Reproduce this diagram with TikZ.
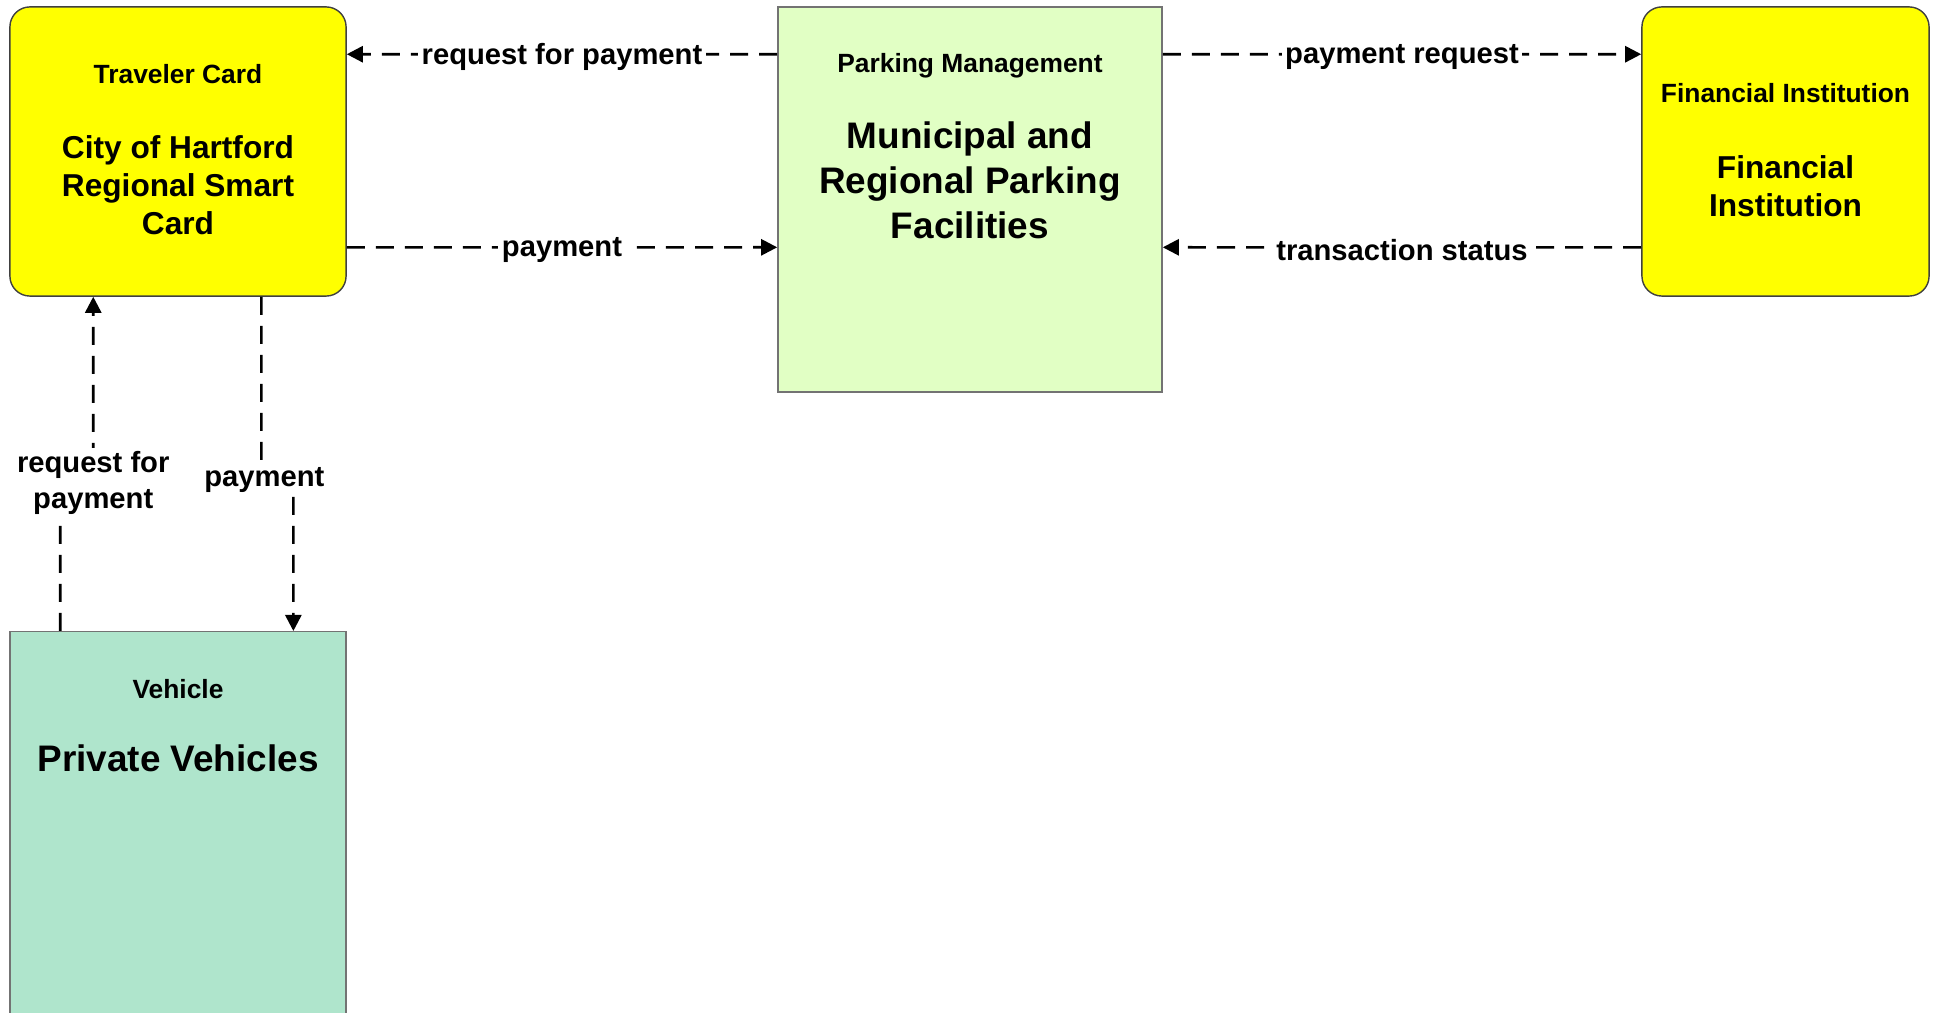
\documentclass[tikz,border=0pt]{standalone}
\usepackage{fontspec}
\setmainfont{Liberation Sans}
\usetikzlibrary{arrows.meta}
\definecolor{cardyellow}{RGB}{255,255,0}
\definecolor{parkgreen}{RGB}{225,255,196}
\definecolor{vehgreen}{RGB}{175,229,204}

\begin{document}
\begin{tikzpicture}[x=0.01cm, y=-0.01cm,
  rbox/.style={draw=black!75, line width=0.4pt, fill=cardyellow, rounded corners=0.2cm, inner sep=0pt},
  sbox/.style={draw=black!55, line width=0.4pt, inner sep=0pt},
  hd/.style={font=\fontsize{7.5}{9}\selectfont\bfseries},
  mainsm/.style={font=\fontsize{9}{10.8}\selectfont\bfseries, align=center},
  mainlg/.style={font=\fontsize{10.5}{12.8}\selectfont\bfseries, align=center},
  lbl/.style={fill=white, inner sep=1pt, yshift=-0.03cm, font=\fontsize{8.3}{10.2}\selectfont\bfseries, align=center},
  flow/.style={line width=0.75pt, dash pattern=on 0.18cm off 0.11cm, -{Triangle[length=0.16cm,width=0.16cm]}}]
\useasboundingbox (0,0) rectangle (1939,1013);
\clip (0,0) rectangle (1939,1013);

% boxes
\node[rbox, minimum width=3.36cm, minimum height=2.89cm] (tc) at (178,151.5) {};
\node[sbox, fill=parkgreen, minimum width=3.84cm, minimum height=3.85cm] (pm) at (970,199.5) {};
\node[rbox, minimum width=2.87cm, minimum height=2.89cm] (fi) at (1785.5,151.5) {};
\node[sbox, fill=vehgreen, minimum width=3.36cm, minimum height=5cm, anchor=north] (ve) at (178,631) {};

% box texts
\node[hd] (tchd) at (178,74) {Traveler Card};
\node[mainsm] (tctx) at (178,185) {City of Hartford\\Regional Smart\\Card};
\node[hd] (pmhd) at (970,66) {Parking Management};
\node[mainlg] (pmtx) at (970,180) {Municipal and\\Regional Parking\\Facilities};
\node[hd] (fihd) at (1785.5,93) {Financial Institution};
\node[mainsm] (fitx) at (1785.5,186) {Financial\\Institution};
\node[hd] (vehd) at (178,689) {Vehicle};
\node[mainlg] (vetx) at (178,758) {Private Vehicles};

% flows
\draw[flow] ([yshift=-.48cm]pm.north west) -- node[lbl]{request for payment} ([yshift=-.48cm]tc.north east);
\draw[flow] ([yshift=-2.41cm]tc.north east) -- node[lbl]{payment} ([yshift=-2.41cm]pm.north west);
\draw[flow] ([yshift=-.48cm]pm.north east) -- node[lbl]{payment request} ([yshift=-.48cm]fi.north west);
\draw[flow] ([yshift=-2.41cm]fi.north west) -- node[lbl]{transaction status} ([yshift=-2.41cm]pm.north east);
\draw[flow] ([xshift=.51cm]ve.north west) -- ++(0,-151) -- ++(33,0) node[lbl]{request for\\payment} -- ([xshift=.84cm]tc.south west);
\draw[flow] ([xshift=2.52cm]tc.south west) -- ++(0,180) node[lbl, xshift=.03cm]{payment} -- ++(32,0) -- ([xshift=2.84cm]ve.north west);
\end{tikzpicture}
\end{document}
